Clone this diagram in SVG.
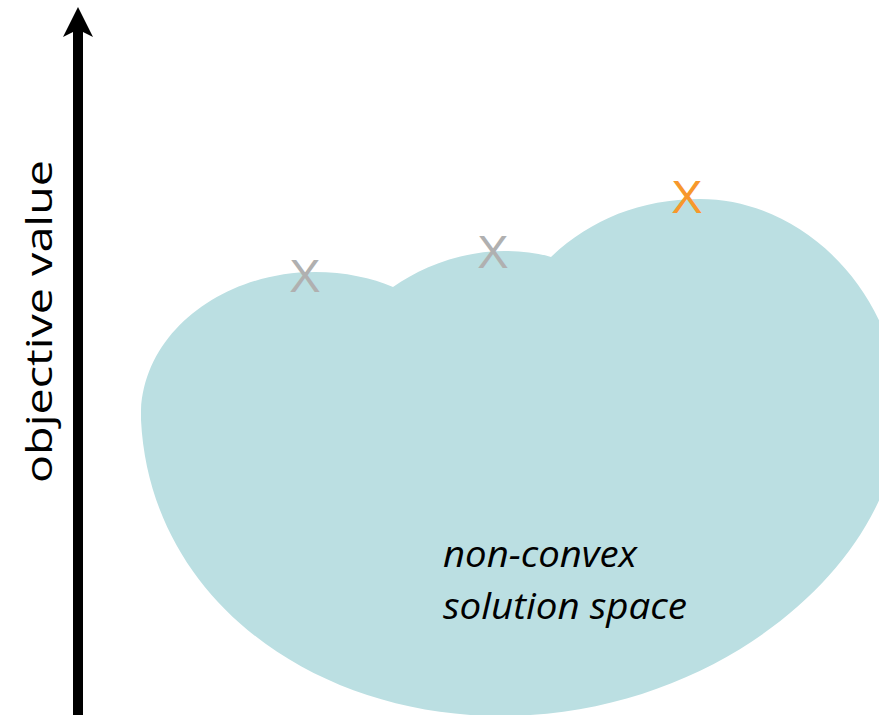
<svg xmlns="http://www.w3.org/2000/svg" width="879" height="715" viewBox="0 0 879 715">
  <style>
    .blob { fill: #BBDFE2; stroke: none; }
    .mark { font-family: "Liberation Sans", Arial, sans-serif; font-size: 47px; text-anchor: middle; }
    .grey { fill: #B0B0B0; }
    .orange { fill: #F7982C; }
    .axislabel { font-family: "Open Sans", "Noto Sans", sans-serif; font-size: 37px; fill: #000000; }
    .caption { font-family: "Open Sans", "Noto Sans", sans-serif; font-size: 37px; font-style: italic; fill: #000000; }
  </style>
  <rect x="0" y="0" width="879" height="715" fill="#FFFFFF"/>
  <g id="solution-space">
    <path class="blob" d="M141,410 C145,330 225,272 315,272 C345,272 372,278 393,287 C420,268 460,251 505,251 C522,251 538,253 551,257 C590,220 640,199 700,199 C805,199 898,295 900,410 C900,560 720,716 500,716 C315,716 150,600 141,420 Z"/>
    <text class="caption" x="443" y="567" textLength="194" lengthAdjust="spacingAndGlyphs">non-convex</text>
    <text class="caption" x="443" y="619" textLength="244" lengthAdjust="spacingAndGlyphs">solution space</text>
  </g>
  <g id="local-optimum-1">
    <text class="mark grey" x="305" y="292">X</text>
  </g>
  <g id="local-optimum-2">
    <text class="mark grey" x="493" y="268">X</text>
  </g>
  <g id="global-optimum">
    <text class="mark orange" x="687" y="213">X</text>
  </g>
  <g id="axis-label">
    <text class="axislabel" transform="translate(52,483) rotate(-90)" x="0" y="0" textLength="323" lengthAdjust="spacingAndGlyphs">objective value</text>
  </g>
  <g id="connectors">
    <path d="M78,7 L93,37 L83,32 L83,715 L73,715 L73,32 L63,37 Z" fill="#000000"/>
  </g>
</svg>
